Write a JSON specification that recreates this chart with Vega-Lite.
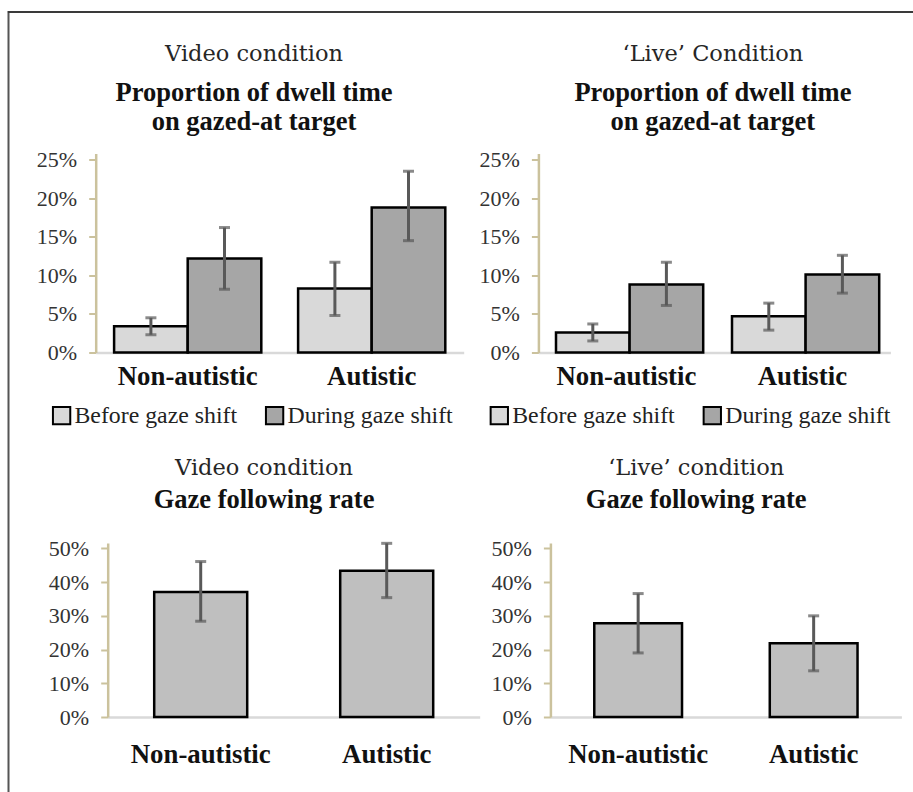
{
  "$schema": "https://vega.github.io/schema/vega-lite/v6.json",
  "padding": {"left": 7.5, "top": 11, "right": 0, "bottom": 0},
  "background": "white",
  "datasets": {
    "dwellVideo": [
      {"group": "Non-autistic", "phase": "Before gaze shift", "value": 0.034, "lo": 0.023, "hi": 0.045},
      {"group": "Non-autistic", "phase": "During gaze shift", "value": 0.122, "lo": 0.082, "hi": 0.162},
      {"group": "Autistic", "phase": "Before gaze shift", "value": 0.083, "lo": 0.048, "hi": 0.117},
      {"group": "Autistic", "phase": "During gaze shift", "value": 0.188, "lo": 0.145, "hi": 0.235}
    ],
    "dwellLive": [
      {"group": "Non-autistic", "phase": "Before gaze shift", "value": 0.026, "lo": 0.015, "hi": 0.037},
      {"group": "Non-autistic", "phase": "During gaze shift", "value": 0.088, "lo": 0.061, "hi": 0.117},
      {"group": "Autistic", "phase": "Before gaze shift", "value": 0.047, "lo": 0.029, "hi": 0.064},
      {"group": "Autistic", "phase": "During gaze shift", "value": 0.101, "lo": 0.077, "hi": 0.126}
    ],
    "gazeVideo": [
      {"group": "Non-autistic", "value": 0.371, "lo": 0.284, "hi": 0.461},
      {"group": "Autistic", "value": 0.434, "lo": 0.354, "hi": 0.515}
    ],
    "gazeLive": [
      {"group": "Non-autistic", "value": 0.278, "lo": 0.190, "hi": 0.366},
      {"group": "Autistic", "value": 0.219, "lo": 0.137, "hi": 0.300}
    ],
    "empty": []
  },
  "config": {
    "view": {"stroke": null},
    "title": {
      "font": "DejaVu Serif", "fontSize": 22.5, "fontWeight": "normal", "color": "#262626",
      "subtitleFont": "Liberation Serif", "subtitleFontSize": 26.5, "subtitleFontWeight": "bold",
      "subtitleColor": "#111111", "subtitleLineHeight": 29, "anchor": "middle"
    },
    "axisY": {
      "title": null, "grid": false, "format": ".0%", "labelOverlap": false, "labelBound": false,
      "domainColor": "#cbc29d", "domainWidth": 2.5, "tickColor": "#cbc29d", "tickWidth": 2, "tickSize": 7,
      "labelFont": "Liberation Serif", "labelFontSize": 22, "labelColor": "#333333", "labelPadding": 12
    },
    "axisX": {
      "title": null, "ticks": false, "domainColor": "#d9d9d9", "domainWidth": 2.5,
      "labelFont": "Liberation Serif", "labelFontSize": 26.8, "labelFontWeight": "bold", "labelColor": "#111111",
      "labelAngle": 0, "labelPadding": 11
    },
    "legend": {
      "title": null, "symbolType": "square", "symbolSize": 300, "symbolStrokeColor": "black", "symbolStrokeWidth": 2,
      "labelFont": "Liberation Serif", "labelFontSize": 23.8, "labelColor": "#222222", "labelOffset": 1,
      "columnPadding": 24, "labelLimit": 0, "padding": 0
    }
  },
  "resolve": {"scale": {"color": "independent"}, "legend": {"color": "independent"}},
  "spacing": 0,
  "vconcat": [
    {
      "data": {"name": "empty"}, "mark": "point", "width": 905.5, "height": 2,
      "view": {"fill": "#3a3a3a", "stroke": null}
    },
    {
      "spacing": 10.5,
      "resolve": {"scale": {"color": "independent"}, "legend": {"color": "independent"}},
      "hconcat": [
        {
          "data": {"name": "empty"}, "mark": "point", "width": 2, "height": 779,
          "view": {"fill": "#555555", "stroke": null}
        },
        {
          "spacing": 28.5,
          "resolve": {"scale": {"color": "independent"}, "legend": {"color": "independent"}},
          "vconcat": [
            {"data": {"name": "empty"}, "mark": "point", "width": 1, "height": 1, "view": {"fill": "white", "stroke": null}},
            {
              "spacing": 27.5,
              "resolve": {"scale": {"color": "independent"}, "legend": {"color": "independent"}},
              "vconcat": [
                {
                  "spacing": 14.7,
                  "resolve": {"scale": {"color": "independent"}, "legend": {"color": "independent"}},
                  "hconcat": [
                    {"data": {"name": "empty"}, "mark": "point", "width": 1, "height": 1, "view": {"fill": "white", "stroke": null}},
                    {
                      "width": 368, "height": 199,
                      "data": {"name": "dwellVideo"},
                      "title": {"text": "Video condition", "subtitle": ["Proportion of dwell time", "on gazed-at target"], "frame": "bounds", "offset": 13.5, "subtitlePadding": 14, "dx": 4},
                      "encoding": {
                        "x": {"field": "group", "type": "nominal", "sort": ["Non-autistic", "Autistic"], "scale": {"paddingInner": 0.2, "paddingOuter": 0.1}},
                        "xOffset": {"field": "phase", "type": "nominal", "sort": ["Before gaze shift", "During gaze shift"], "scale": {"paddingInner": 0, "paddingOuter": 0}}
                      },
                      "layer": [
                        {
                          "mark": {"type": "bar", "stroke": "black", "strokeWidth": 2.5},
                          "encoding": {
                            "y": {"field": "value", "type": "quantitative", "scale": {"domain": [0, 0.258], "nice": false}, "axis": {"values": [0, 0.05, 0.1, 0.15, 0.2, 0.25]}},
                            "color": {"field": "phase", "type": "nominal", "scale": {"domain": ["Before gaze shift", "During gaze shift"], "range": ["#d9d9d9", "#a6a6a6"]}, "legend": {"orient": "none", "direction": "horizontal", "legendX": -46, "legendY": 250}}
                          }
                        },
                        {"mark": {"type": "rule", "color": "#595959", "strokeWidth": 3}, "encoding": {"y": {"field": "lo", "type": "quantitative", "axis": {"values": [0, 0.05, 0.1, 0.15, 0.2, 0.25]}}, "y2": {"field": "hi"}}},
                        {"mark": {"type": "tick", "color": "#595959", "thickness": 3, "size": 11}, "encoding": {"y": {"field": "lo", "type": "quantitative", "axis": {"values": [0, 0.05, 0.1, 0.15, 0.2, 0.25]}}}},
                        {"mark": {"type": "tick", "color": "#595959", "thickness": 3, "size": 11}, "encoding": {"y": {"field": "hi", "type": "quantitative", "axis": {"values": [0, 0.05, 0.1, 0.15, 0.2, 0.25]}}}}
                      ]
                    },
                    {
                      "width": 352, "height": 199,
                      "data": {"name": "dwellLive"},
                      "title": {"text": "‘Live’ Condition", "subtitle": ["Proportion of dwell time", "on gazed-at target"], "frame": "group", "offset": 13.5, "subtitlePadding": 14, "dx": -1.5},
                      "encoding": {
                        "x": {"field": "group", "type": "nominal", "sort": ["Non-autistic", "Autistic"], "scale": {"paddingInner": 0.2, "paddingOuter": 0.1}},
                        "xOffset": {"field": "phase", "type": "nominal", "sort": ["Before gaze shift", "During gaze shift"], "scale": {"paddingInner": 0, "paddingOuter": 0}}
                      },
                      "layer": [
                        {
                          "mark": {"type": "bar", "stroke": "black", "strokeWidth": 2.5},
                          "encoding": {
                            "y": {"field": "value", "type": "quantitative", "scale": {"domain": [0, 0.258], "nice": false}, "axis": {"values": [0, 0.05, 0.1, 0.15, 0.2, 0.25]}},
                            "color": {"field": "phase", "type": "nominal", "scale": {"domain": ["Before gaze shift", "During gaze shift"], "range": ["#d9d9d9", "#a6a6a6"]}, "legend": {"orient": "none", "direction": "horizontal", "legendX": -51, "legendY": 250}}
                          }
                        },
                        {"mark": {"type": "rule", "color": "#595959", "strokeWidth": 3}, "encoding": {"y": {"field": "lo", "type": "quantitative", "axis": {"values": [0, 0.05, 0.1, 0.15, 0.2, 0.25]}}, "y2": {"field": "hi"}}},
                        {"mark": {"type": "tick", "color": "#595959", "thickness": 3, "size": 11}, "encoding": {"y": {"field": "lo", "type": "quantitative", "axis": {"values": [0, 0.05, 0.1, 0.15, 0.2, 0.25]}}}},
                        {"mark": {"type": "tick", "color": "#595959", "thickness": 3, "size": 11}, "encoding": {"y": {"field": "hi", "type": "quantitative", "axis": {"values": [0, 0.05, 0.1, 0.15, 0.2, 0.25]}}}}
                      ]
                    }
                  ]
                },
                {
                  "spacing": 10.7,
                  "resolve": {"scale": {"color": "independent"}, "legend": {"color": "independent"}},
                  "hconcat": [
                    {"data": {"name": "empty"}, "mark": "point", "width": 17, "height": 1, "view": {"fill": "white", "stroke": null}},
                    {
                      "width": 372, "height": 174,
                      "data": {"name": "gazeVideo"},
                      "title": {"text": "Video condition", "subtitle": "Gaze following rate", "frame": "bounds", "offset": 23.5, "subtitlePadding": 8},
                      "encoding": {
                        "x": {"field": "group", "type": "nominal", "sort": ["Non-autistic", "Autistic"], "scale": {"paddingInner": 0.5, "paddingOuter": 0.25}, "axis": {"labelPadding": 24}}
                      },
                      "layer": [
                        {
                          "mark": {"type": "bar", "fill": "#bfbfbf", "stroke": "black", "strokeWidth": 2.5},
                          "encoding": {"y": {"field": "value", "type": "quantitative", "scale": {"domain": [0, 0.516], "nice": false}, "axis": {"values": [0, 0.1, 0.2, 0.3, 0.4, 0.5]}}}
                        },
                        {"mark": {"type": "rule", "color": "#595959", "strokeWidth": 3}, "encoding": {"y": {"field": "lo", "type": "quantitative", "axis": {"values": [0, 0.1, 0.2, 0.3, 0.4, 0.5]}}, "y2": {"field": "hi"}}},
                        {"mark": {"type": "tick", "color": "#595959", "thickness": 3, "size": 11}, "encoding": {"y": {"field": "lo", "type": "quantitative", "axis": {"values": [0, 0.1, 0.2, 0.3, 0.4, 0.5]}}}},
                        {"mark": {"type": "tick", "color": "#595959", "thickness": 3, "size": 11}, "encoding": {"y": {"field": "hi", "type": "quantitative", "axis": {"values": [0, 0.1, 0.2, 0.3, 0.4, 0.5]}}}}
                      ]
                    },
                    {
                      "width": 351, "height": 174,
                      "data": {"name": "gazeLive"},
                      "title": {"text": "‘Live’ condition", "subtitle": "Gaze following rate", "frame": "bounds", "offset": 23.5, "subtitlePadding": 8},
                      "encoding": {
                        "x": {"field": "group", "type": "nominal", "sort": ["Non-autistic", "Autistic"], "scale": {"paddingInner": 0.5, "paddingOuter": 0.25}, "axis": {"labelPadding": 24}}
                      },
                      "layer": [
                        {
                          "mark": {"type": "bar", "fill": "#bfbfbf", "stroke": "black", "strokeWidth": 2.5},
                          "encoding": {"y": {"field": "value", "type": "quantitative", "scale": {"domain": [0, 0.516], "nice": false}, "axis": {"values": [0, 0.1, 0.2, 0.3, 0.4, 0.5]}}}
                        },
                        {"mark": {"type": "rule", "color": "#595959", "strokeWidth": 3}, "encoding": {"y": {"field": "lo", "type": "quantitative", "axis": {"values": [0, 0.1, 0.2, 0.3, 0.4, 0.5]}}, "y2": {"field": "hi"}}},
                        {"mark": {"type": "tick", "color": "#595959", "thickness": 3, "size": 11}, "encoding": {"y": {"field": "lo", "type": "quantitative", "axis": {"values": [0, 0.1, 0.2, 0.3, 0.4, 0.5]}}}},
                        {"mark": {"type": "tick", "color": "#595959", "thickness": 3, "size": 11}, "encoding": {"y": {"field": "hi", "type": "quantitative", "axis": {"values": [0, 0.1, 0.2, 0.3, 0.4, 0.5]}}}}
                      ]
                    }
                  ]
                }
              ]
            }
          ]
        }
      ]
    }
  ]
}
